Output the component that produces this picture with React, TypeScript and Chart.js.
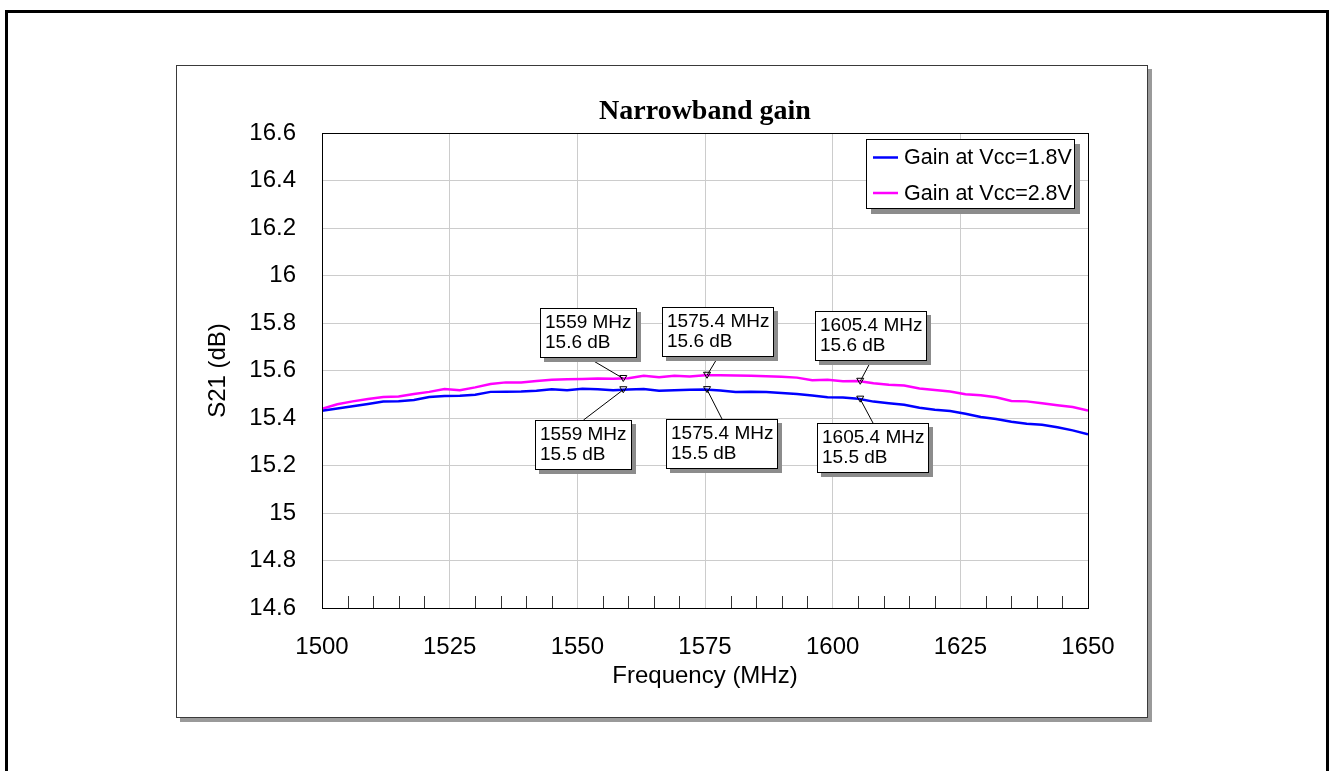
import { useEffect, useRef } from "react";
import { Chart, registerables } from "chart.js";

Chart.register(...registerables);

// Frequency sweep (MHz) shared by both traces
const freqs = [
  1500, 1503, 1506, 1509, 1512, 1515, 1518, 1521, 1524, 1527, 1530, 1533, 1536,
  1539, 1542, 1545, 1548, 1551, 1554, 1557, 1560, 1563, 1566, 1569, 1572, 1575,
  1578, 1581, 1584, 1587, 1590, 1593, 1596, 1599, 1602, 1605, 1608, 1611, 1614,
  1617, 1620, 1623, 1626, 1629, 1632, 1635, 1638, 1641, 1644, 1647, 1650,
];

// S21 (dB) at Vcc = 1.8 V
const gainVcc18 = [
  15.431, 15.44, 15.449, 15.459, 15.469, 15.471, 15.476, 15.488, 15.493, 15.494,
  15.498, 15.51, 15.511, 15.512, 15.515, 15.521, 15.517, 15.523, 15.521, 15.517,
  15.52, 15.522, 15.515, 15.517, 15.519, 15.52, 15.516, 15.509, 15.51, 15.509,
  15.505, 15.501, 15.495, 15.487, 15.486, 15.481, 15.469, 15.462, 15.456, 15.443,
  15.435, 15.429, 15.418, 15.404, 15.396, 15.384, 15.376, 15.372, 15.361, 15.348,
  15.331,
];

// S21 (dB) at Vcc = 2.8 V
const gainVcc28 = [
  15.439, 15.458, 15.47, 15.48, 15.488, 15.491, 15.501, 15.51, 15.522, 15.517,
  15.529, 15.543, 15.55, 15.55, 15.556, 15.561, 15.563, 15.564, 15.566, 15.565,
  15.567, 15.578, 15.572, 15.578, 15.575, 15.58, 15.58, 15.579, 15.578, 15.576,
  15.574, 15.57, 15.559, 15.561, 15.555, 15.556, 15.546, 15.54, 15.537, 15.524,
  15.518, 15.512, 15.5, 15.496, 15.487, 15.472, 15.47, 15.462, 15.454, 15.446,
  15.431,
];

const seriesLabels = ["Gain at Vcc=1.8V", "Gain at Vcc=2.8V"];
const seriesColors = ["#0000ff", "#ff00ff"];

const xTickValues = [1500, 1525, 1550, 1575, 1600, 1625, 1650];
const yTickValues = [14.6, 14.8, 15, 15.2, 15.4, 15.6, 15.8, 16, 16.2, 16.4, 16.6];

// Marked frequencies (MHz) for the callouts
const markerFreqs = [1559, 1575.4, 1605.4];

// Callout box centre offsets from the marker, in px
const calloutOffsetsUpper = [
  [-35, -45],
  [11, -43],
  [11, -45],
];
const calloutOffsetsLower = [
  [-40, 55],
  [15, 54],
  [13, 49],
];

const SANS = '"Liberation Sans", Arial, Helvetica, sans-serif';
const SERIF = '"Liberation Serif", "Times New Roman", serif';
const W = 1333;
const H = 771;

function valueAt(xs: number[], ys: number[], x: number): number {
  for (let i = 0; i < xs.length - 1; i++) {
    if (x >= xs[i] && x <= xs[i + 1]) {
      const t = (x - xs[i]) / (xs[i + 1] - xs[i]);
      return ys[i] + t * (ys[i + 1] - ys[i]);
    }
  }
  return ys[ys.length - 1];
}

function shadowBox(ctx: CanvasRenderingContext2D, x: number, y: number, w: number, h: number, off: number, shade: string) {
  ctx.fillStyle = shade;
  ctx.fillRect(x + off, y + off, w, h);
  ctx.fillStyle = "#ffffff";
  ctx.fillRect(x, y, w, h);
  ctx.strokeStyle = "#000000";
  ctx.lineWidth = 1;
  ctx.strokeRect(x + 0.5, y + 0.5, w - 1, h - 1);
}

function drawCallout(
  ctx: CanvasRenderingContext2D,
  mx: number,
  my: number,
  dx: number,
  dy: number,
  lines: string[]
) {
  ctx.font = `19px ${SANS}`;
  const tw = Math.max(...lines.map((l) => ctx.measureText(l).width));
  const w = Math.round(tw + 10);
  const h = 50;
  const cx = mx + dx;
  const cy = my + dy;
  const left = Math.round(cx - w / 2);
  const top = Math.round(cy - h / 2);
  const edgeY = dy < 0 ? top + h : top;

  // leader line
  ctx.strokeStyle = "#000000";
  ctx.lineWidth = 1;
  ctx.beginPath();
  ctx.moveTo(left + w / 2, edgeY);
  ctx.lineTo(mx, my);
  ctx.stroke();

  // marker triangle
  ctx.beginPath();
  ctx.moveTo(mx - 3.5, my - 3);
  ctx.lineTo(mx + 3.5, my - 3);
  ctx.lineTo(mx, my + 3);
  ctx.closePath();
  ctx.stroke();

  shadowBox(ctx, left, top, w, h, 4, "#8c8c8c");
  ctx.fillStyle = "#000000";
  ctx.textAlign = "left";
  ctx.textBaseline = "middle";
  ctx.fillText(lines[0], left + 5, top + 15);
  ctx.fillText(lines[1], left + 5, top + 35);
}

const decorPlugin = {
  id: "decor",
  beforeDraw(chart: any) {
    const ctx: CanvasRenderingContext2D = chart.ctx;
    ctx.save();
    ctx.fillStyle = "#ffffff";
    ctx.fillRect(0, 0, W, H);
    // outer frame
    ctx.strokeStyle = "#000000";
    ctx.lineWidth = 3;
    ctx.strokeRect(6.5, 11.5, 1321, 820);
    // chart panel with drop shadow
    ctx.fillStyle = "#9a9a9a";
    ctx.fillRect(180, 69, 972, 653);
    ctx.fillStyle = "#ffffff";
    ctx.fillRect(176, 65, 972, 653);
    ctx.strokeStyle = "#3a3a3a";
    ctx.lineWidth = 1;
    ctx.strokeRect(176.5, 65.5, 971, 652);
    ctx.restore();
  },
  afterDatasetsDraw(chart: any) {
    const ctx: CanvasRenderingContext2D = chart.ctx;
    const { left, right, top, bottom } = chart.chartArea;
    const xs = chart.scales.x;
    const ys = chart.scales.y;
    ctx.save();

    // plot frame
    ctx.strokeStyle = "#000000";
    ctx.lineWidth = 1;
    ctx.strokeRect(Math.round(left) + 0.5, Math.round(top) + 0.5, Math.round(right - left), Math.round(bottom - top));

    // minor ticks along the frequency axis
    ctx.strokeStyle = "#333333";
    ctx.beginPath();
    for (let f = 1505; f < 1650; f += 5) {
      if (f % 25 === 0) continue;
      const px = Math.round(xs.getPixelForValue(f)) + 0.5;
      ctx.moveTo(px, bottom);
      ctx.lineTo(px, bottom - 12);
    }
    ctx.stroke();

    // callouts
    markerFreqs.forEach((f, i) => {
      const mx = xs.getPixelForValue(f);
      const v28 = valueAt(freqs, gainVcc28, f);
      const v18 = valueAt(freqs, gainVcc18, f);
      drawCallout(ctx, mx, ys.getPixelForValue(v28), calloutOffsetsUpper[i][0], calloutOffsetsUpper[i][1], [
        `${f} MHz`,
        `${v28.toFixed(1)} dB`,
      ]);
      drawCallout(ctx, mx, ys.getPixelForValue(v18), calloutOffsetsLower[i][0], calloutOffsetsLower[i][1], [
        `${f} MHz`,
        `${v18.toFixed(1)} dB`,
      ]);
    });

    // legend
    ctx.font = `21.5px ${SANS}`;
    const tw = Math.max(...seriesLabels.map((l) => ctx.measureText(l).width));
    const lw = Math.round(38 + tw + 3);
    const lh = 70;
    const lx = Math.round(right - 13 - lw);
    const ly = Math.round(top + 6);
    shadowBox(ctx, lx, ly, lw, lh, 5, "#8c8c8c");
    seriesLabels.forEach((label, i) => {
      const rowY = ly + 18.5 + i * 35.5;
      ctx.strokeStyle = seriesColors[i];
      ctx.lineWidth = 2.5;
      ctx.beginPath();
      ctx.moveTo(lx + 7, rowY);
      ctx.lineTo(lx + 32, rowY);
      ctx.stroke();
      ctx.fillStyle = "#000000";
      ctx.textAlign = "left";
      ctx.textBaseline = "middle";
      ctx.font = `21.5px ${SANS}`;
      ctx.fillText(label, lx + 38, rowY + 1);
    });

    ctx.restore();
  },
  afterDraw(chart: any) {
    const ctx: CanvasRenderingContext2D = chart.ctx;
    const { left, right } = chart.chartArea;
    ctx.save();
    ctx.fillStyle = "#000000";
    ctx.font = `bold 28px ${SERIF}`;
    ctx.textAlign = "center";
    ctx.textBaseline = "middle";
    ctx.fillText("Narrowband gain", (left + right) / 2, 112);
    ctx.restore();
  },
};

export default function App() {
  const canvasRef = useRef<HTMLCanvasElement | null>(null);

  useEffect(() => {
    const canvas = canvasRef.current;
    if (!canvas) return;
    const datasets = [gainVcc18, gainVcc28].map((vals, i) => ({
      label: seriesLabels[i],
      data: freqs.map((f, j) => ({ x: f, y: vals[j] })),
      borderColor: seriesColors[i],
      backgroundColor: seriesColors[i],
      borderWidth: 2.5,
      pointRadius: 0,
      tension: 0,
      fill: false,
    }));

    const chart = new Chart(canvas, {
      type: "line",
      data: { datasets },
      plugins: [decorPlugin],
      options: {
        responsive: false,
        animation: false,
        events: [],
        layout: { padding: { left: 0, top: 133, right: 245, bottom: 0 } },
        plugins: {
          legend: { display: false },
          title: { display: false },
          tooltip: { enabled: false },
        },
        scales: {
          x: {
            type: "linear",
            min: 1500,
            max: 1650,
            afterBuildTicks: (s: any) => {
              s.ticks = xTickValues.map((v) => ({ value: v }));
            },
            afterFit: (s: any) => {
              s.height = 163;
            },
            grid: { color: "#cccccc", lineWidth: 1, drawTicks: false },
            border: { display: false },
            ticks: {
              padding: 25,
              color: "#000000",
              font: { family: SANS, size: 24 },
              maxRotation: 0,
              autoSkip: false,
              callback: (v: any) => String(v),
            },
            title: {
              display: true,
              text: "Frequency (MHz)",
              color: "#000000",
              font: { family: SANS, size: 24 },
              padding: { top: 0, bottom: 80 },
            },
          },
          y: {
            type: "linear",
            min: 14.6,
            max: 16.6,
            afterBuildTicks: (s: any) => {
              s.ticks = yTickValues.map((v) => ({ value: v }));
            },
            afterFit: (s: any) => {
              s.width = 322;
            },
            grid: { color: "#cccccc", lineWidth: 1, drawTicks: false },
            border: { display: false },
            ticks: {
              padding: 26,
              color: "#000000",
              font: { family: SANS, size: 24 },
              autoSkip: false,
              callback: (v: any) => String(Number(Number(v).toFixed(1))),
            },
            title: {
              display: true,
              text: "S21 (dB)",
              color: "#000000",
              font: { family: SANS, size: 24 },
              padding: { top: 204, bottom: 0 },
            },
          },
        },
      },
    } as any);

    return () => {
      chart.destroy();
    };
  }, []);

  return (
    <div style={{ position: "absolute", left: 0, top: 0, width: W, height: H, background: "#ffffff" }}>
      <canvas ref={canvasRef} width={W} height={H} style={{ display: "block", width: W, height: H }} />
    </div>
  );
}
